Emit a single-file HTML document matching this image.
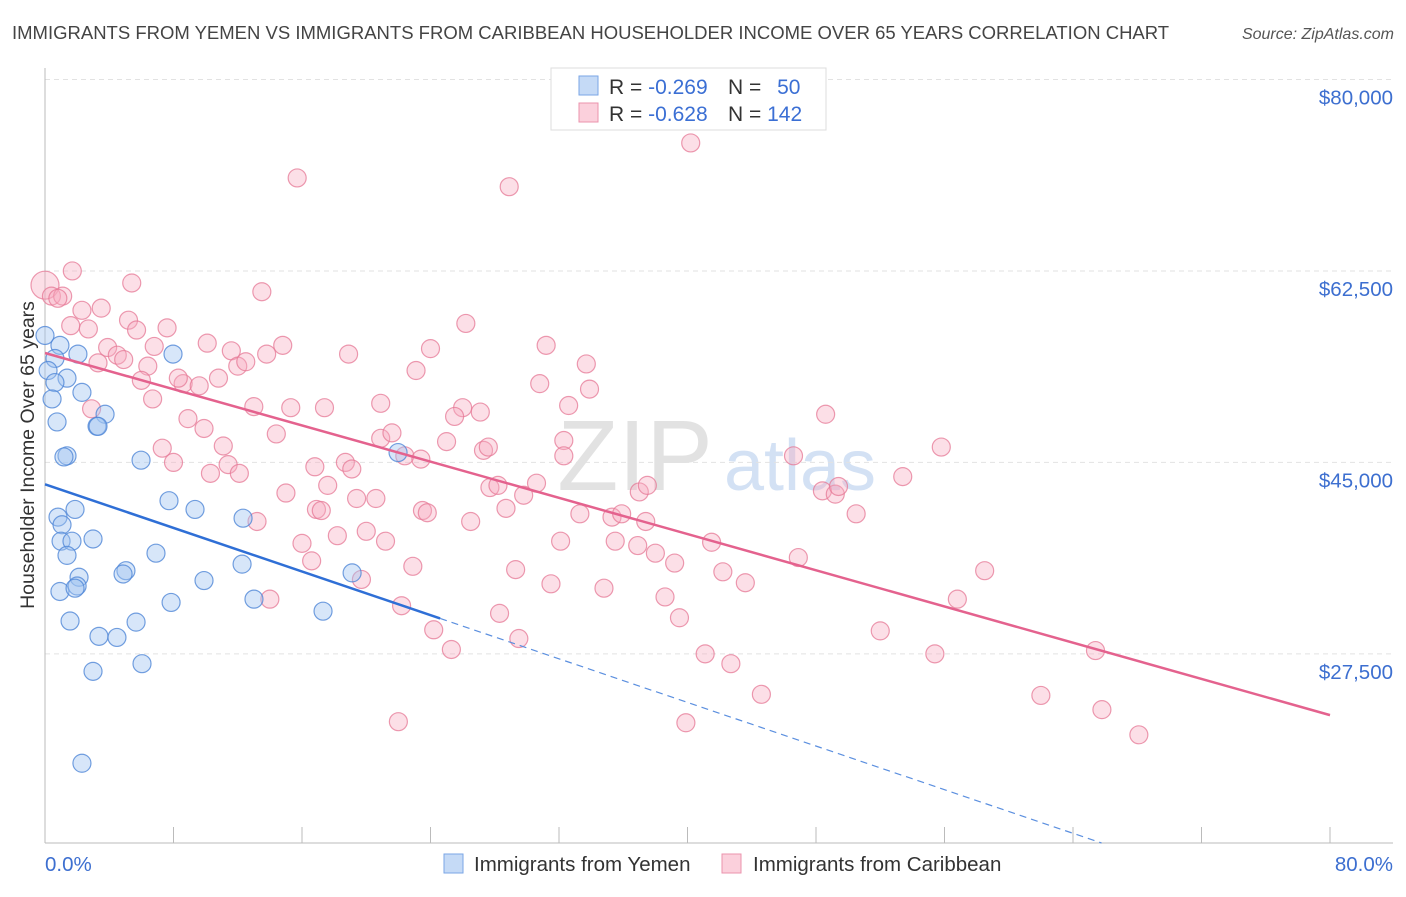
<!DOCTYPE html>
<html><head><meta charset="utf-8"><style>
body{margin:0;background:#fff;font-family:"Liberation Sans",sans-serif;}
svg text{font-family:"Liberation Sans",sans-serif;}
</style></head><body>
<svg id="chart" width="1406" height="892" xmlns="http://www.w3.org/2000/svg">
<text x="12" y="39" font-size="18.5" fill="#444">IMMIGRANTS FROM YEMEN VS IMMIGRANTS FROM CARIBBEAN HOUSEHOLDER INCOME OVER 65 YEARS CORRELATION CHART</text>
<text x="1394" y="39" font-size="16" fill="#555" font-style="italic" text-anchor="end">Source: ZipAtlas.com</text>
<g>
<text x="635" y="490" font-size="100" fill="#dcdcdc" font-family="Liberation Serif" text-anchor="middle" opacity="0.8">ZIP</text>
<text x="800" y="490" font-size="72" fill="#c9daf2" text-anchor="middle" opacity="0.8">atlas</text>
</g>
<g id="grid"></g>
<g id="axes"></g>
<g id="pink"></g>
<g id="blue"></g>
<g id="trends"></g>
<text transform="translate(34,455) rotate(-90)" font-size="19.5" fill="#333" text-anchor="middle">Householder Income Over 65 years</text>
<g>
<rect x="551" y="68" width="275" height="62" fill="#fff" stroke="#ddd"/>
<rect x="579" y="76" width="19" height="19" fill="#c5daf6" stroke="#7aa6e6"/>
<rect x="579" y="103" width="19" height="19" fill="#fbd0dc" stroke="#eb93ad"/>
<text x="609" y="94" font-size="21" fill="#333">R = <tspan fill="#3b6fd4">-0.269</tspan></text>
<text x="728" y="94" font-size="21" fill="#333">N = <tspan fill="#3b6fd4" dx="10">50</tspan></text>
<text x="609" y="121" font-size="21" fill="#333">R = <tspan fill="#3b6fd4">-0.628</tspan></text>
<text x="728" y="121" font-size="21" fill="#333">N = <tspan fill="#3b6fd4">142</tspan></text>
</g>
<g>
<rect x="444" y="854" width="19" height="19" fill="#c5daf6" stroke="#7aa6e6"/>
<text x="474" y="871" font-size="20.5" fill="#333">Immigrants from Yemen</text>
<rect x="722" y="854" width="19" height="19" fill="#fbd0dc" stroke="#eb93ad"/>
<text x="753" y="871" font-size="20.5" fill="#333">Immigrants from Caribbean</text>
</g>
</svg>
<script>
const yTicks=[80000,62500,45000,27500];
const yTickLabels=["$80,000","$62,500","$45,000","$27,500"];
const xTickLabels=["0.0%","80.0%"];
const blueX=[0,0.93,2.05,0.62,0.19,1.37,0.62,2.3,0.44,3.74,0.75,3.24,3.3,1.37,1.18,5.98,7.97,21.98,7.72,9.34,0.81,1.87,1.06,12.33,2.99,1.0,1.68,1.37,6.91,12.27,5.04,4.86,19.12,2.12,0.93,2.0,1.87,9.9,7.85,13.01,17.31,1.56,5.67,3.36,4.48,6.04,2.99,2.3];
const blueY=[56.6,55.7,54.9,54.5,53.4,52.7,52.3,51.4,50.8,49.4,48.7,48.3,48.3,45.6,45.5,45.2,54.9,45.9,41.5,40.7,40.0,40.7,39.3,39.9,38.0,37.8,37.8,36.5,36.7,35.7,35.1,34.8,34.9,34.5,33.2,33.7,33.5,34.2,32.2,32.5,31.4,30.5,30.4,29.1,29.0,26.6,25.9,17.5];
const pinkX=[0,1.7,5.4,13.5,0.4,1.1,0.8,2.3,3.5,5.2,7.6,1.6,2.7,5.7,10.1,14.8,3.9,4.5,11.6,13.8,6.8,6.4,3.3,4.9,6.0,8.6,9.6,8.3,10.8,12.0,12.5,6.7,2.9,13.0,15.3,8.9,9.9,11.1,14.4,7.3,8.0,10.3,11.4,12.1,15.7,28.9,40.2,24.0,26.2,31.2,33.7,33.9,30.8,23.1,17.4,18.9,20.9,26.0,27.1,32.6,25.5,20.9,21.6,22.4,25.0,27.3,27.6,32.3,16.8,18.7,19.1,15.0,17.6,16.9,17.2,19.4,20.6,23.5,23.8,29.8,27.7,28.2,30.6,37.0,37.5,32.3,23.4,13.2,16.0,18.2,20.0,21.2,16.6,19.7,22.9,26.5,28.7,33.3,35.3,35.9,37.4,32.1,35.5,36.9,38.0,39.2,41.5,42.2,43.6,29.3,31.5,34.8,38.6,39.5,28.3,22.2,24.2,25.3,29.5,41.1,42.7,44.6,39.9,22.0,14.0,46.6,48.6,48.4,49.2,49.4,50.5,46.9,53.4,55.8,52.0,56.8,55.4,58.5,62.0,65.4,65.8,68.1];
const pinkY=[61.2,62.5,61.4,60.6,60.2,60.2,60.0,58.9,59.1,58.0,57.3,57.5,57.2,57.1,55.9,55.7,55.5,54.8,55.2,54.9,55.6,53.8,54.1,54.4,52.5,52.2,52.0,52.7,52.7,53.8,54.2,50.8,49.9,50.1,50.0,49.0,48.1,46.5,47.6,46.3,45.0,44.0,44.8,44.0,71.0,70.2,74.2,55.4,57.7,55.7,54.0,51.7,52.2,53.4,50.0,54.9,50.4,50.0,49.6,50.2,49.2,47.2,47.7,45.6,46.9,46.1,46.4,47.0,44.6,45.0,44.4,42.2,42.9,40.7,40.6,41.7,41.7,40.6,40.4,42.0,42.7,42.9,43.1,42.3,42.9,45.6,45.3,39.6,37.6,38.3,38.7,37.8,36.0,34.3,35.5,39.6,40.8,40.3,40.0,40.3,39.6,37.8,37.8,37.4,36.7,35.8,37.7,35.0,34.0,35.2,33.9,33.5,32.7,30.8,31.2,31.9,29.7,27.9,28.9,27.5,26.6,23.8,21.2,21.3,32.5,45.6,49.4,42.4,42.1,42.8,40.3,36.3,43.7,46.4,29.6,32.5,27.5,35.1,23.7,27.8,22.4,20.1];
const pinkTrend=[55.0,21.9];
const blueTrend=[43.0,-0.4985,24.6];
const NS="http://www.w3.org/2000/svg";
const L=45,R=1393,B=843,T=68;
function xs(v){return L+v*(1330-L)/80;}
function ys(k){return 79.5+(80-k)*10.94;}
function mk(tag,attrs,parent){const e=document.createElementNS(NS,tag);for(const a in attrs)e.setAttribute(a,attrs[a]);parent.appendChild(e);return e;}
const grid=document.getElementById('grid'),axes=document.getElementById('axes');
yTicks.forEach((t,i)=>{
 const y=ys(t/1000);
 const g=mk('line',{x1:L,x2:R,y1:y,y2:y,stroke:'#e2e2e2','stroke-dasharray':'5,4'},grid);
 
 
 const tx=mk('text',{x:1393,y:y+25,'font-size':20.5,fill:'#3d6fd0','text-anchor':'end'},axes);
 tx.textContent=yTickLabels[i];
 
 
});
mk('line',{x1:L,x2:L,y1:T,y2:B,stroke:'#bbb'},axes);
mk('line',{x1:L,x2:R,y1:B,y2:B,stroke:'#bbb'},axes);
for(let i=0;i<=10;i++){const x=xs(i*8);const tk=mk('line',{x1:x,x2:x,y1:B,y2:B-16,stroke:'#bbb'},axes);}
const xl0=mk('text',{x:45,y:871,'font-size':20.5,fill:'#3d6fd0'},axes);xl0.textContent=xTickLabels[0];


const xl1=mk('text',{x:1393,y:871,'font-size':20.5,fill:'#3d6fd0','text-anchor':'end'},axes);xl1.textContent=xTickLabels[1];


const pg=document.getElementById('pink');
pinkX.forEach((v,i)=>{const c=mk('circle',{cx:xs(v),cy:ys(pinkY[i]),r:i===0?14:9,fill:'rgba(246,170,192,0.38)',stroke:'rgba(230,120,150,0.75)','stroke-width':1.2},pg);
 
 });
const bg=document.getElementById('blue');
blueX.forEach((v,i)=>{const c=mk('circle',{cx:xs(v),cy:ys(blueY[i]),r:9,fill:'rgba(160,196,240,0.42)',stroke:'rgba(80,135,215,0.8)','stroke-width':1.2},bg);
 
 });
const tg=document.getElementById('trends');
const pl=mk('line',{x1:xs(0),y1:ys(pinkTrend[0]),x2:xs(80),y2:ys(pinkTrend[1]),stroke:'#e4628e','stroke-width':2.5},tg);


const bEnd=blueTrend[2];
const bl=mk('line',{x1:xs(0),y1:ys(blueTrend[0]),x2:xs(bEnd),y2:ys(blueTrend[0]+blueTrend[1]*bEnd),stroke:'#2f6fd6','stroke-width':2.5},tg);


const bottomK=80-(B-79.5)/10.94;
const xEnd=(bottomK-blueTrend[0])/blueTrend[1];
const bd=mk('line',{x1:xs(bEnd),y1:ys(blueTrend[0]+blueTrend[1]*bEnd),x2:xs(xEnd),y2:ys(blueTrend[0]+blueTrend[1]*xEnd),stroke:'#5b8fdf','stroke-width':1.2,'stroke-dasharray':'7,5'},tg);


</script>
</body></html>
